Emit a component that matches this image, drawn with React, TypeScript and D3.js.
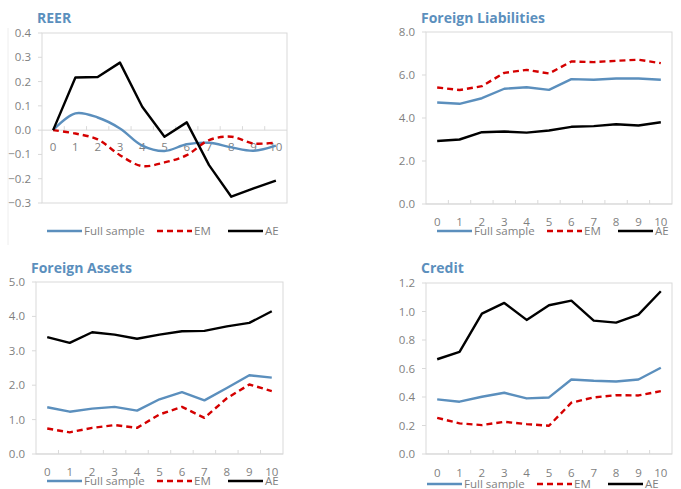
import React from 'react';
import * as d3 from 'd3';

// horizon (years after the event)
const categories = ['0', '1', '2', '3', '4', '5', '6', '7', '8', '9', '10'];
const seriesNames = ['Full sample', 'EM', 'AE'];

// REER
const reerFull = [0, 0.069, 0.052, 0.007, -0.064, -0.086, -0.058, -0.052, -0.071, -0.085, -0.064];
const reerEM = [0, -0.014, -0.038, -0.103, -0.148, -0.133, -0.103, -0.041, -0.027, -0.055, -0.051];
const reerAE = [0, 0.217, 0.219, 0.278, 0.096, -0.027, 0.032, -0.144, -0.274, -0.24, -0.208];

// Foreign liabilities
const liabFull = [4.72, 4.66, 4.92, 5.36, 5.43, 5.31, 5.81, 5.78, 5.84, 5.84, 5.78];
const liabEM = [5.42, 5.3, 5.48, 6.1, 6.24, 6.07, 6.63, 6.6, 6.66, 6.71, 6.55];
const liabAE = [2.93, 3.0, 3.34, 3.37, 3.32, 3.42, 3.59, 3.62, 3.71, 3.65, 3.8];

// Foreign assets
const assetFull = [1.36, 1.23, 1.32, 1.37, 1.26, 1.59, 1.8, 1.56, 1.92, 2.29, 2.22];
const assetEM = [0.74, 0.63, 0.76, 0.84, 0.76, 1.15, 1.37, 1.05, 1.62, 2.02, 1.83];
const assetAE = [3.4, 3.23, 3.54, 3.47, 3.35, 3.47, 3.57, 3.58, 3.71, 3.81, 4.15];

// Credit
const creditFull = [0.383, 0.367, 0.402, 0.43, 0.39, 0.397, 0.523, 0.514, 0.509, 0.523, 0.605];
const creditEM = [0.254, 0.215, 0.203, 0.226, 0.21, 0.198, 0.36, 0.397, 0.413, 0.411, 0.441];
const creditAE = [0.665, 0.717, 0.985, 1.06, 0.941, 1.044, 1.076, 0.936, 0.922, 0.978, 1.142];

const reerTicks = [-0.3, -0.2, -0.1, 0, 0.1, 0.2, 0.3, 0.4];
const liabTicks = [0, 2, 4, 6, 8];
const assetTicks = [0, 1, 2, 3, 4, 5];
const creditTicks = [0, 0.2, 0.4, 0.6, 0.8, 1.0, 1.2];

const BLUE = '#5b8fbd';
const RED = '#d40000';
const BLACK = '#000000';
const GRID = '#d9d9d9';
const TEXT = '#7f7f7f';
const FONT = '"Open Sans", "Noto Sans", sans-serif';

interface PanelProps {
  title: string;
  series: number[][];
  ticks: number[];
  left: number;
  right: number;
  top: number;
  bottom: number;
  titleY: number;
  labelY: number;
  legendX: number;
  legendY: number;
  zeroAxis?: boolean;
  smooth?: boolean;
}

const Panel: React.FC<PanelProps> = ({
  title, series, ticks, left, right, top, bottom, titleY, labelY, legendX, legendY, zeroAxis, smooth,
}) => {
  const y = d3.scaleLinear()
    .domain([ticks[0], ticks[ticks.length - 1]])
    .range([bottom, top]);
  const band = d3.scaleBand().domain(categories).range([left, right]).padding(0);
  const x = (c: string) => (band(c) || 0) + band.bandwidth() / 2;
  const axisY = zeroAxis ? y(0) : bottom;

  const colors = [BLUE, RED, BLACK];
  const dashes = [undefined, '6,4', undefined];
  const legendOffsets = [0, 110, 181];

  return (
    <g fontFamily={FONT}>
      <text x={left - 5} y={titleY} fontSize={14} fontWeight="bold" fill={BLUE}>{title}</text>
      <rect x={left} y={top} width={right - left} height={bottom - top} fill="none" stroke={GRID} strokeWidth={1} />
      {/* y ticks */}
      {ticks.map(t => (
        <g key={t}>
          <line x1={left - 4} x2={left} y1={y(t)} y2={y(t)} stroke={GRID} />
          <text x={left - 11} y={y(t)} dy="0.35em" textAnchor="end" fontSize={11.5} fill={TEXT}>
            {d3.format('.1f')(t)}
          </text>
        </g>
      ))}
      {/* x axis */}
      <line x1={left} x2={right} y1={axisY} y2={axisY} stroke={GRID} />
      {categories.slice(1).map(c => (
        <line key={c} x1={band(c)} x2={band(c)} y1={axisY - 4} y2={axisY} stroke={GRID} />
      ))}
      {categories.map(c => (
        <text key={c} x={x(c)} y={labelY} dy="0.35em" textAnchor="middle" fontSize={11.5} fill={TEXT}>{c}</text>
      ))}
      {/* lines */}
      {series.map((s, i) => {
        const gen = d3.line<number>()
          .x((_, j) => x(categories[j]))
          .y(d => y(d))
          .curve(smooth && i < 2 ? d3.curveCatmullRom.alpha(0.5) : d3.curveLinear);
        return (
          <path key={i} d={gen(s) || ''} fill="none" stroke={colors[i]} strokeWidth={2.4}
            strokeDasharray={dashes[i]} strokeLinejoin="round" />
        );
      })}
      {/* legend */}
      {seriesNames.map((n, i) => {
        const lx = legendX + legendOffsets[i];
        return (
          <g key={n}>
            <line x1={lx} x2={lx + 35} y1={legendY} y2={legendY} stroke={colors[i]} strokeWidth={2.4}
              strokeDasharray={dashes[i]} />
            <text x={lx + 37} y={legendY} dy="0.35em" fontSize={11.5} fill={TEXT}>{n}</text>
          </g>
        );
      })}
    </g>
  );
};

export default function App() {
  return (
    <div style={{ position: 'absolute', left: 0, top: 0, background: '#fff' }}>
      <svg width={681} height={489} style={{ display: 'block' }}>
        <rect width={681} height={489} fill="#fff" />
        <line x1={8} x2={8} y1={28} y2={245} stroke="#eeeeee" />
        <Panel title="REER" series={[reerFull, reerEM, reerAE]} ticks={reerTicks}
          left={42} right={287} top={33} bottom={203} titleY={23} labelY={147}
          legendX={47} legendY={231} zeroAxis smooth />
        <Panel title="Foreign Liabilities" series={[liabFull, liabEM, liabAE]} ticks={liabTicks}
          left={426} right={672} top={32} bottom={204} titleY={23} labelY={222}
          legendX={437} legendY={231} />
        <Panel title="Foreign Assets" series={[assetFull, assetEM, assetAE]} ticks={assetTicks}
          left={36} right={283} top={282} bottom={454} titleY={273} labelY={472}
          legendX={47} legendY={481} />
        <Panel title="Credit" series={[creditFull, creditEM, creditAE]} ticks={creditTicks}
          left={426} right={672} top={283} bottom={454} titleY={273} labelY={473}
          legendX={427} legendY={484} />
      </svg>
    </div>
  );
}
